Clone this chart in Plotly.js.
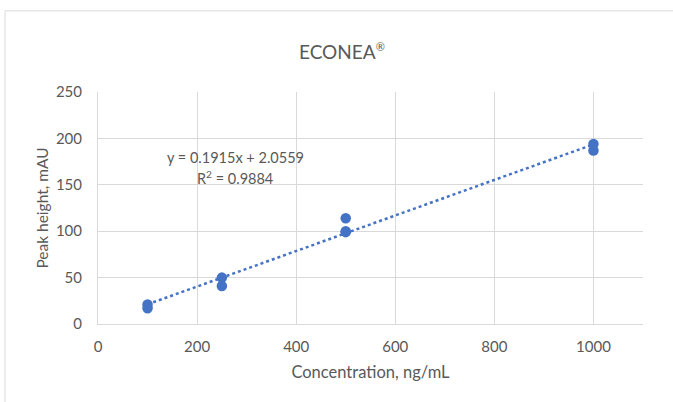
<!DOCTYPE html>
<html><head><meta charset="utf-8">
<script src="https://cdn.plot.ly/plotly-3.0.1.min.js"></script>
<style>html,body{margin:0;padding:0;background:#fff;}#chart{width:673px;height:402px;}</style>
</head><body><div id="chart"></div>
<script>
const concentration = [100, 100, 250, 250, 500, 500, 500, 1000, 1000];
const peakHeight = [21, 17, 50, 41, 114, 100, 99, 194, 187];
const trendX = [100, 1000];
const slope = 0.1915, intercept = 2.0559;
const trendY = trendX.map(x => slope * x + intercept);
const xTicks = [0, 200, 400, 600, 800, 1000];
const yTicks = [0, 50, 100, 150, 200, 250];

const gray = '#595959';
const font = 'Lato, "Open Sans", sans-serif';
const data = [
  {x: trendX, y: trendY, type: 'scatter', mode: 'lines',
   line: {color: '#4472C4', width: 2.5, dash: 'dot'}, hoverinfo: 'skip'},
  {x: concentration, y: peakHeight, type: 'scatter', mode: 'markers',
   marker: {color: '#4472C4', size: 10.5}}
];
const layout = {
  width: 673, height: 402, showlegend: false,
  paper_bgcolor: '#fff', plot_bgcolor: '#fff',
  margin: {l: 98, r: 30, t: 91.5, b: 77.5},
  font: {family: font, color: gray, size: 15},
  title: {text: 'ECONEA<sup><span style="font-size:11px">®</span></sup>', x: 0.508, xanchor: 'center', y: 0.87, yanchor: 'middle',
          font: {family: font, size: 19, color: gray}},
  xaxis: {range: [0, 1100], tickvals: xTicks, showgrid: true, gridcolor: '#d9d9d9', gridwidth: 1,
          zeroline: false, showline: true, linecolor: '#d9d9d9', linewidth: 1,
          ticks: 'outside', ticklen: 9, tickcolor: 'rgba(0,0,0,0)',
          tickfont: {size: 15, color: gray},
          title: {text: 'Concentration, ng/mL', font: {size: 16.5, color: gray}, standoff: 12}},
  yaxis: {range: [0, 250], tickvals: yTicks, showgrid: true, gridcolor: '#d9d9d9', gridwidth: 1,
          zeroline: false, showline: true, linecolor: '#d9d9d9',
          ticks: 'outside', ticklen: 12, tickcolor: 'rgba(0,0,0,0)',
          tickfont: {size: 15, color: gray},
          title: {text: 'Peak height, mAU', font: {size: 15.5, color: gray}, standoff: 3}},
  annotations: [
    {xref: 'paper', yref: 'paper', x: (235 - 98) / 545, y: (324.5 - 157) / 233, showarrow: false,
     text: 'y = 0.1915x + 2.0559', font: {size: 14.5, color: gray}, xanchor: 'center', yanchor: 'middle'},
    {xref: 'paper', yref: 'paper', x: (235 - 98) / 545, y: (324.5 - 177) / 233, showarrow: false,
     text: 'R<sup>2</sup> = 0.9884', font: {size: 14.5, color: gray}, xanchor: 'center', yanchor: 'middle'}
  ],
  shapes: [
    {type: 'rect', xref: 'paper', yref: 'paper', x0: (5 - 98) / 545, x1: (690 - 98) / 545,
     y0: (324.5 - 420) / 233, y1: (324.5 - 10) / 233, line: {color: '#d9d9d9', width: 1}, layer: 'below'}
  ]
};
Plotly.newPlot('chart', data, layout, {displayModeBar: false, staticPlot: true});
</script></body></html>
